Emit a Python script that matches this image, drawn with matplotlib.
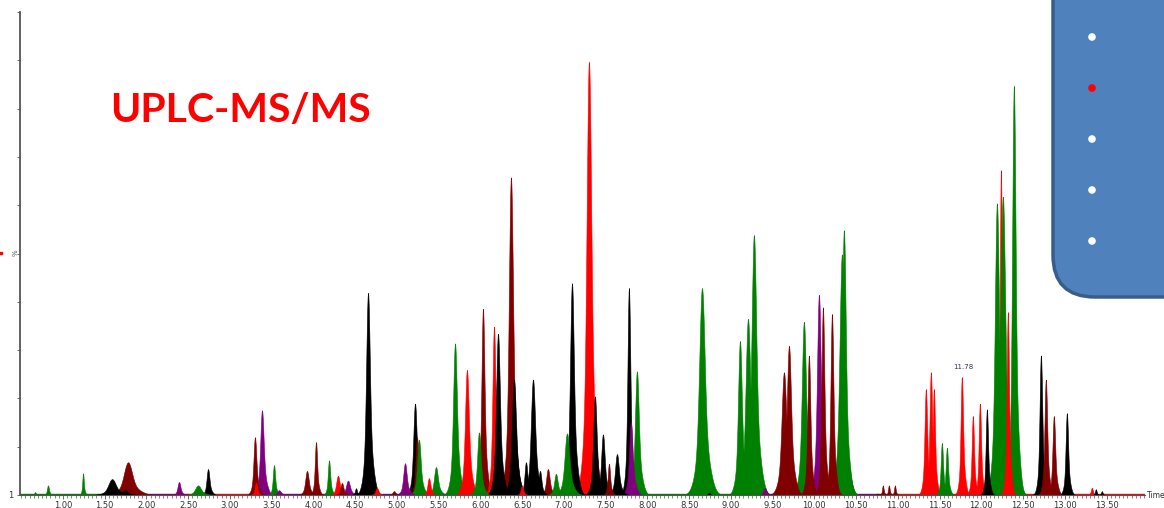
import numpy as np
import matplotlib
matplotlib.use('Agg')
import matplotlib.pyplot as plt
from matplotlib.patches import FancyBboxPatch
from matplotlib.ticker import MultipleLocator, FormatStrFormatter

# peak tables per MRM channel: retention time (min), height (%), width (sigma, min)
green_rt = [0.665, 0.820, 1.240, 2.617, 3.527, 4.186, 5.263, 5.467, 5.695, 5.982, 6.904, 7.036, 7.874,
            8.653, 9.108, 9.204, 9.275, 9.874, 10.329, 10.353, 11.527, 11.587, 12.186, 12.257, 12.389, 12.485]
green_h = [0.6, 2.0, 4.5, 2.0, 6.2, 7.2, 11.5, 5.8, 31.5, 13.0, 4.4, 12.8, 25.7,
           43.0, 32.0, 36.6, 54.0, 36.0, 50.0, 55.0, 10.8, 9.8, 60.6, 62.0, 85.0, 1.2]
green_w = [0.008, 0.010, 0.008, 0.030, 0.012, 0.012, 0.018, 0.020, 0.020, 0.018, 0.018, 0.025, 0.020,
           0.030, 0.020, 0.025, 0.025, 0.022, 0.025, 0.020, 0.012, 0.012, 0.022, 0.025, 0.018, 0.015]

red_rt = [3.311, 4.293, 4.760, 5.383, 5.838, 6.162, 6.497, 7.299, 11.335, 11.395, 11.431,
          11.766, 11.898, 11.982, 12.234, 12.317, 13.323]
red_h = [2.5, 4.0, 1.5, 3.5, 26.0, 35.0, 2.0, 90.0, 22.0, 25.5, 22.0,
         24.5, 16.4, 19.0, 67.5, 38.0, 1.5]
red_w = [0.012, 0.018, 0.015, 0.015, 0.020, 0.016, 0.012, 0.025, 0.014, 0.014, 0.012,
         0.013, 0.012, 0.012, 0.012, 0.012, 0.010]

darkred_rt = [1.778, 3.299, 3.922, 4.030, 4.341, 4.964, 5.240, 6.030, 6.365, 6.808, 7.539,
              9.635, 9.695, 9.934, 10.102, 10.210, 10.820, 10.892, 10.964, 12.772, 12.868]
darkred_h = [6.8, 12.0, 5.0, 11.0, 2.5, 0.8, 12.0, 38.7, 66.0, 5.4, 6.5,
             25.5, 31.0, 29.0, 39.0, 37.6, 2.0, 2.0, 2.0, 24.0, 16.4]
darkred_w = [0.045, 0.015, 0.018, 0.012, 0.015, 0.015, 0.015, 0.016, 0.022, 0.018, 0.012,
             0.025, 0.022, 0.015, 0.015, 0.015, 0.008, 0.008, 0.008, 0.014, 0.014]

black_rt = [1.587, 1.743, 2.737, 4.509, 4.653, 5.216, 6.210, 6.401, 6.545, 6.629, 6.713, 7.096,
            7.371, 7.467, 7.635, 7.778, 8.737, 12.066, 12.713, 13.024, 13.371, 13.443]
black_h = [3.3, 1.0, 5.4, 1.4, 42.0, 19.0, 33.5, 24.0, 6.8, 24.0, 5.0, 44.0,
           20.5, 12.6, 8.5, 43.0, 0.5, 17.8, 29.0, 17.0, 1.2, 0.8]
black_w = [0.040, 0.030, 0.015, 0.010, 0.020, 0.018, 0.020, 0.022, 0.015, 0.022, 0.015, 0.020,
           0.018, 0.018, 0.020, 0.015, 0.010, 0.012, 0.014, 0.013, 0.008, 0.008]

purple_rt = [2.389, 3.383, 3.587, 4.413, 5.096, 7.802, 9.407, 10.054]
purple_h = [2.7, 17.6, 1.0, 3.0, 6.6, 15.0, 1.5, 41.6]
purple_w = [0.015, 0.018, 0.020, 0.020, 0.018, 0.018, 0.015, 0.020]

# baseline pieces of each channel trace (start, end)
base_colors = ['#008000', '#000000', '#800080', '#FF0000', '#800080', '#008000', '#800080', '#800000', '#FF0000']
base_start = [0.49, 1.50, 1.95, 2.50, 3.25, 7.90, 9.05, 10.75, 10.85]
base_end = [1.50, 1.95, 2.50, 3.25, 7.90, 9.05, 10.75, 10.85, 13.96]

time_ticks = np.arange(1.0, 13.51, 0.5)
bullet_colors = ['white', 'red', 'white', 'white', 'white']

channels = [
    ('#008000', green_rt, green_h, green_w),
    ('#FF0000', red_rt, red_h, red_w),
    ('#800000', darkred_rt, darkred_h, darkred_w),
    ('#000000', black_rt, black_h, black_w),
    ('#800080', purple_rt, purple_h, purple_w),
]

W, H = 1164, 508
fig = plt.figure(figsize=(W / 100, H / 100), dpi=100)
ax = fig.add_axes([20 / W, 13 / H, 1125 / W, 483 / H])
ax.set_xlim(0.485, 13.96)
ax.set_ylim(0, 100)

# all peaks, tallest first so the small ones sit in front
peaks = []
for col, rts, hs, ws in channels:
    for rt, h, w in zip(rts, hs, ws):
        peaks.append((h, rt, w, col))
peaks.sort(key=lambda p: -p[0])
for i, (h, rt, w, col) in enumerate(peaks):
    t = np.linspace(rt - 8 * w, rt + 9 * w, 400)
    # sharp top plus a wider, slightly tailing foot
    core = np.exp(-0.5 * ((t - rt) / w) ** 2)
    foot = np.exp(-0.5 * ((t - rt - 0.4 * w) / (2.4 * w)) ** 2)
    y = h * (0.72 * core + 0.28 * foot)
    ax.fill_between(t, 0, y, color=col, lw=0.4, zorder=2 + i * 0.001)

for c, s, e in zip(base_colors, base_start, base_end):
    ax.plot([s, e], [0.15, 0.15], color=c, lw=1.0, zorder=1.5)

for s in ['top', 'right']:
    ax.spines[s].set_visible(False)
ax.spines['left'].set_color('#555555')
ax.spines['left'].set_linewidth(1.3)
ax.spines['bottom'].set_color('#555555')
ax.spines['bottom'].set_linewidth(0.8)

ax.set_xticks(time_ticks)
ax.xaxis.set_major_formatter(FormatStrFormatter('%.2f'))
ax.xaxis.set_minor_locator(MultipleLocator(0.05))
ax.tick_params(axis='x', which='major', length=3, width=0.6, color='#555555',
               labelsize=6, labelcolor='#333333', pad=1)
ax.tick_params(axis='x', which='minor', length=2, width=0.5, color='#555555')
ax.set_yticks(np.arange(0, 101, 10))
ax.set_yticklabels(['1'] + [''] * 10)
ax.tick_params(axis='y', length=2, width=0.6, color='#555555', labelsize=6,
               labelcolor='#333333', pad=3)

ax.text(11.78, 25.8, '11.78', fontsize=5, color='#333355', ha='center', va='bottom')
fig.text(1147 / W, 1 - 496 / H, 'Time', fontsize=5.5, color='#333333', ha='left', va='center')
fig.text(16 / W, 1 - 253 / H, '%', fontsize=5, color='#555555', rotation=90, ha='center', va='center')

fig.text(110 / W, 1 - 110 / H, 'UPLC-MS/MS', fontsize=29.5, fontweight='bold', family='Lato',
         color='#FF0000', ha='left', va='center')

# rounded blue panel on the right
ov = fig.add_axes([0, 0, 1, 1], zorder=5)
ov.set_xlim(0, W)
ov.set_ylim(H, 0)
ov.axis('off')
box = FancyBboxPatch((1053, -60), 200, 357, boxstyle='round,pad=0,rounding_size=42',
                     facecolor='#4F81BD', edgecolor='#385D8A', lw=2.5)
ov.add_patch(box)
ov.scatter([1092] * 5, [37, 88, 139, 190, 241], s=30, c=bullet_colors, zorder=6, lw=0)
ov.plot([1], [253], marker='s', ms=2, color='red')

fig.savefig('out.png', dpi=100)
